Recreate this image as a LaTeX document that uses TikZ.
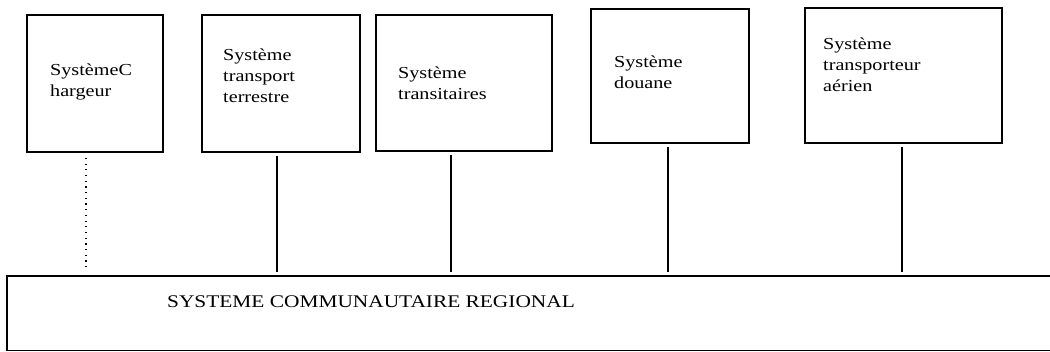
\documentclass[tikz,border=0pt]{standalone}
\usepackage{fontspec}
\setmainfont{Liberation Serif}[FakeStretch=1.2]
\usetikzlibrary{calc}
\begin{document}
\begin{tikzpicture}[x=1pt,y=-1pt,
  sysbox/.style={draw,line width=1.8pt,inner sep=0pt},
  systext/.style={anchor=west,align=left,inner sep=0pt,font=\fontsize{16.8}{21}\selectfont},
  link/.style={line width=1.6pt,shorten <=3pt,shorten >=4pt},
  dotlink/.style={line width=1.3pt,dash pattern=on 1.2pt off 4.5pt,shorten <=5pt,shorten >=10pt}]
\useasboundingbox (0,0) rectangle (1050,352);
% boxes
\node[sysbox,minimum width=136pt,minimum height=137pt] (b1) at (95,83.5) {};
\node[sysbox,minimum width=158pt,minimum height=137pt] (b2) at (281,83.5) {};
\node[sysbox,minimum width=176pt,minimum height=136pt] (b3) at (464,83) {};
\node[sysbox,minimum width=158pt,minimum height=134pt] (b4) at (670,76) {};
\node[sysbox,minimum width=197pt,minimum height=135pt] (b5) at (903.5,75.5) {};
% texts
\node[systext] (t1) at (50,81.5) {SystèmeC\\hargeur};
\node[systext] (t2) at (223,76) {Système\\transport\\terrestre};
\node[systext] (t3) at (398,83) {Système\\transitaires};
\node[systext] (t4) at (614,72) {Système\\douane};
\node[systext] (t5) at (823,65) {Système\\transporteur\\aérien};
% bottom system (open on the right)
\node[inner sep=0pt,minimum width=1046pt,minimum height=74pt] (scr) at (530,313.5) {};
\draw[line width=1.6pt] (scr.north east) -- (scr.north west) -- (scr.south west) -- (scr.south east);
\node[anchor=west,inner sep=0pt,font=\fontsize{17.8}{21}\selectfont] (st) at (167,302) {SYSTEME COMMUNAUTAIRE REGIONAL};
% connectors
\draw[dotlink] ([xshift=-9pt]b1.south) -- ([xshift=-9pt]b1.south |- scr.north);
\draw[link] ([xshift=-4pt]b2.south) -- ([xshift=-4pt]b2.south |- scr.north);
\draw[link] ([xshift=-13pt]b3.south) -- ([xshift=-13pt]b3.south |- scr.north);
\draw[link] ([xshift=-2pt]b4.south) -- ([xshift=-2pt]b4.south |- scr.north);
\draw[link] ([xshift=-1.5pt]b5.south) -- ([xshift=-1.5pt]b5.south |- scr.north);
\end{tikzpicture}
\end{document}
